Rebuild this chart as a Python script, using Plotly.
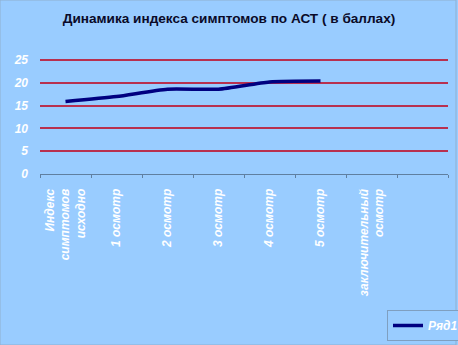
import plotly.graph_objects as go

categories = ["Индекс<br>симптомов<br>исходно", "1 осмотр", "2 осмотр", "3 осмотр",
              "4 осмотр", "5 осмотр", "заключительный<br>осмотр", " "]
values = [15.9, 17.0, 18.6, 18.6, 20.2, 20.4]
series_name = "Ряд1"
title_text = "Динамика индекса симптомов по АСТ ( в баллах)"
y_ticks = [0, 5, 10, 15, 20, 25]

BG = "#99CCFF"
FONT = "Arial, Liberation Sans, sans-serif"

fig = go.Figure()
fig.add_trace(go.Scatter(
    x=categories[:len(values)], y=values, name=series_name, mode="lines",
    line=dict(color="#000080", width=3.5, shape="spline", smoothing=0.6),
))

fig.update_layout(
    width=458, height=345,
    margin=dict(l=40, r=10, t=58, b=171, autoexpand=False),
    paper_bgcolor=BG, plot_bgcolor=BG,
    title=dict(text=title_text, x=0.5, xanchor="center", y=1 - 18 / 345, yanchor="middle",
               font=dict(family=FONT, size=13.6, color="#0a0a28", weight="bold")),
    showlegend=True,
    legend=dict(x=(387 - 40) / 408, xanchor="left", y=(174 - 341) / 116, yanchor="bottom",
                bgcolor=BG, bordercolor="#7f9fc0", borderwidth=1,
                font=dict(family=FONT, size=12, color="white", weight="bold", style="italic"),
                itemwidth=30),
)

fig.update_xaxes(
    type="category", categoryorder="array", categoryarray=categories,
    range=[-0.5, len(categories) - 0.5],
    tickson="boundaries", ticks="outside", ticklen=3, tickcolor="#5f7fa0",
    showline=True, linecolor="#5f7fa0", linewidth=1, showgrid=False,
    tickangle=-90, ticklabelstandoff=9, automargin=False,
    tickfont=dict(family=FONT, size=12, color="white", weight="bold", style="italic"),
)
fig.update_yaxes(
    range=[0, 25 * 116 / 114], tickvals=y_ticks, showgrid=True, gridcolor="#b8304f", gridwidth=1.5,
    zeroline=False, showline=False, ticks="", ticklabelstandoff=11, automargin=False,
    tickfont=dict(family=FONT, size=12, color="white", weight="bold", style="italic"),
)

fig.add_shape(type="rect", xref="paper", yref="paper",
              x0=-40 / 408, x1=1 + 8 / 408, y0=-171 / 116, y1=1 + 58 / 116,
              line=dict(color="#8fb0d0", width=1), fillcolor="rgba(0,0,0,0)", layer="below")

fig.write_html("out.html", config={"displayModeBar": False},
               post_script="document.body.style.margin='0';document.body.style.overflow='hidden';")
